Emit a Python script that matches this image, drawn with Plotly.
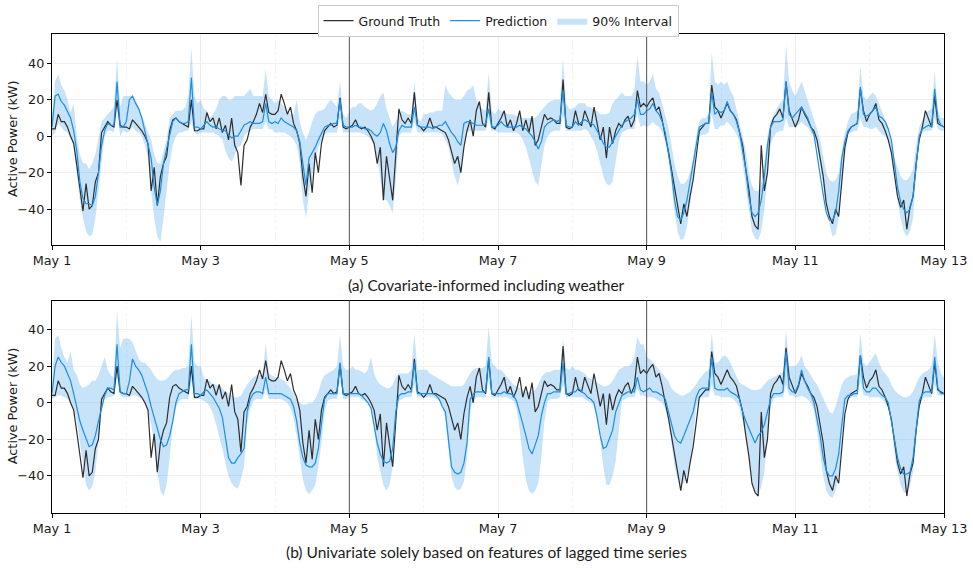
import pandas as pd
import plotly.graph_objects as go

# ---------------- data (hourly, May 1 00:00 -> May 13 00:00) ----------------
truth = [
    4, 4, 12, 8, 8, 5, 0, -4, -16, -30, -41, -26, -40, -38, -25, -20, 2, 5, 8, 6, 5, 20, 6, 5,
    5, 4, 9, 7, 5, 3, 0, -4, -30, -17, -38, -22, -15, -11, 3, 9, 10, 8, 7, 6, 5, 20, 3, 3,
    4, 4, 13, 8, 10, 4, 10, 2, 6, -2, 10, -5, -9, -27, -5, -2, 5, 8, 12, 18, 13, 23, 13, 12,
    12, 14, 23, 18, 12, 16, 7, 3, -4, -22, -33, -15, -31, -9, -20, -4, 3, 5, 7, 5, 6, 21, 5, 4,
    5, 6, 9, 5, 4, 5, 3, 0, -4, -15, -6, -35, -11, -22, -35, -10, 15, 9, 7, 10, 7, 24, 6, 5,
    3, 5, 10, 5, 5, 4, 3, 2, -2, -8, -15, -11, -20, -6, 3, 9, 0, 14, 19, 7, 5, 24, 5, 4,
    7, 10, 14, 5, 9, 3, 7, 14, 3, 9, 2, 11, -5, -2, 5, 12, 9, 10, 9, 7, 7, 31, 5, 4,
    5, 14, 7, 6, 14, 10, 5, 16, 7, -2, 5, -12, 5, -4, 3, 7, 5, 9, 11, 5, 9, 25, 16, 18,
    16, 19, 21, 14, 16, 9, 0, -8, -18, -28, -40, -48, -37, -44, -33, -24, -11, 3, 5, 7, 7, 28, 16, 14,
    10, 14, 18, 14, 12, 9, 2, -5, -18, -29, -44, -49, -51, -5, -30, -20, 5, 10, 12, 15, 10, 30, 14, 10,
    5, 9, 16, 12, 9, 5, 3, -2, -11, -22, -37, -44, -48, -40, -44, -24, -6, 2, 5, 6, 7, 26, 14, 8,
    12, 14, 18, 9, 7, 3, -2, -9, -20, -33, -39, -35, -51, -39, -33, -15, -2, 5, 14, 9, 5, 22, 7, 6, 5,
]

pred_a = [
    5, 22, 23, 19, 17, 13, 10, 3, -8, -25, -34, -37, -37, -38, -33, -20, -5, 3, 7, 6, 6, 30, 5, 5,
    8, 20, 22, 18, 15, 10, 3, -5, -12, -28, -38, -30, -15, -7, 0, 8, 10, 8, 7, 7, 8, 32, 5, 5,
    4, 6, 8, 6, 5, 5, 4, 3, 3, 1, -1, 0, 0, 3, 6, 7, 8, 7, 7, 7, 8, 18, 8, 7,
    8, 7, 10, 8, 7, 6, 5, 3, -3, -15, -27, -12, -9, -6, -2, 2, 5, 6, 6, 7, 7, 20, 6, 5,
    5, 5, 6, 5, 5, 4, 4, 3, 1, 0, 2, 7, 3, -4, -9, -6, 3, 6, 5, 5, 5, 16, 6, 5,
    5, 5, 5, 4, 5, 6, 6, 8, 5, 2, 0, -3, -5, 7, 8, 8, 7, 6, 6, 6, 7, 15, 5, 5,
    6, 8, 6, 5, 5, 5, 5, 6, 5, 4, 2, 0, -3, -7, -3, 5, 7, 8, 9, 8, 9, 25, 6, 5,
    5, 8, 6, 8, 9, 8, 7, 6, 3, 0, -4, -6, -6, -3, 0, 3, 6, 8, 9, 10, 12, 20, 12, 12,
    14, 15, 18, 14, 12, 8, 2, -8, -20, -35, -44, -46, -42, -35, -25, -15, -3, 5, 6, 7, 7, 24, 12, 14,
    13, 14, 19, 14, 12, 8, 2, -8, -18, -33, -42, -44, -42, -35, -22, -5, 5, 8, 8, 8, 9, 30, 12, 10,
    12, 14, 16, 13, 10, 5, 1, -10, -22, -32, -42, -46, -46, -42, -30, -12, -3, 3, 5, 6, 7, 27, 12, 11,
    12, 14, 16, 11, 10, 8, 4, -2, -15, -28, -36, -40, -42, -40, -33, -15, 0, 4, 5, 6, 5, 26, 10, 6, 5,
]

upper_a = [
    12, 30, 34, 28, 25, 20, 13, 18, 0, -10, -15, -15, -18, -15, -10, 0, 8, 10, 12, 14, 16, 42, 16, 22,
    22, 22, 22, 20, 16, 12, 7, 2, -2, -10, -15, -15, -8, -2, 10, 12, 14, 14, 14, 16, 22, 48, 22, 18,
    20, 15, 14, 10, 12, 15, 20, 22, 22, 20, 20, 22, 22, 22, 22, 24, 26, 22, 22, 22, 22, 37, 22, 20,
    18, 20, 18, 16, 14, 12, 12, 20, 8, 2, -2, 2, 8, 12, 14, 14, 15, 18, 20, 18, 16, 30, 12, 10,
    14, 16, 16, 18, 18, 16, 15, 14, 15, 18, 22, 24, 15, 10, 5, 8, 12, 14, 13, 12, 12, 30, 10, 8,
    12, 12, 13, 13, 14, 14, 14, 28, 24, 22, 20, 20, 20, 22, 25, 26, 28, 20, 17, 15, 14, 35, 14, 12,
    15, 14, 13, 12, 12, 12, 11, 11, 10, 10, 10, 10, 10, 12, 14, 16, 18, 19, 20, 20, 20, 42, 18, 15,
    15, 16, 18, 18, 18, 16, 16, 14, 14, 12, 12, 12, 13, 18, 20, 22, 24, 22, 22, 22, 25, 44, 30, 30,
    28, 30, 34, 26, 24, 18, 12, 5, -5, -15, -22, -26, -26, -24, -20, -12, 0, 8, 10, 10, 12, 46, 30, 28,
    30, 28, 30, 25, 22, 15, 8, 0, -8, -20, -27, -30, -30, -25, -15, 0, 8, 12, 15, 18, 20, 50, 30, 25,
    22, 26, 30, 25, 20, 15, 10, 4, -2, -12, -20, -24, -25, -24, -20, -8, 2, 8, 12, 13, 14, 38, 22, 20,
    22, 24, 22, 18, 14, 10, 5, -3, -12, -17, -22, -24, -24, -22, -18, -5, 5, 9, 12, 14, 15, 36, 14, 10, 10,
]

lower_a = [
    0, 2, 7, 5, 3, 2, -2, -5, -20, -35, -45, -52, -55, -54, -45, -30, -12, 0, 3, 3, 2, 15, 0, 3,
    2, 3, 5, 3, 2, 0, -5, -12, -30, -45, -55, -58, -45, -30, -15, -5, 0, 2, 2, 3, 3, 8, 2, 1,
    2, 2, 2, 2, 2, 1, 0, -2, -8, -12, -14, -10, -6, -5, 0, 2, 3, 4, 4, 4, 4, 8, 4, 4,
    2, 2, 2, 2, 1, 0, -2, -5, -15, -35, -45, -30, -22, -12, -6, -2, 1, 2, 2, 2, 2, 10, 2, 2,
    2, 2, 2, 2, 2, 1, 0, -2, -5, -12, -25, -35, -35, -38, -42, -25, 0, 2, 2, 2, 2, 8, 2, 2,
    2, 2, 2, 2, 2, 2, 1, -2, -6, -15, -22, -27, -20, -5, 2, 3, 3, 3, 3, 3, 3, 10, 3, 3,
    2, 2, 2, 2, 2, 2, 2, 1, -2, -6, -12, -18, -25, -27, -15, -5, 0, 2, 3, 3, 3, 12, 3, 3,
    3, 3, 3, 3, 4, 3, 0, -3, -8, -15, -22, -26, -27, -25, -15, -3, 2, 3, 4, 4, 4, 12, 5, 6,
    5, 6, 8, 6, 5, 2, -3, -12, -25, -42, -52, -57, -56, -50, -38, -25, -5, 0, 1, 1, 2, 12, 4, 4,
    6, 6, 8, 6, 4, 1, -3, -15, -28, -42, -52, -56, -57, -52, -40, -22, -5, 0, 2, 3, 3, 10, 5, 5,
    5, 6, 8, 6, 5, 2, 0, -5, -15, -28, -40, -48, -55, -54, -45, -25, -10, 1, 2, 3, 3, 10, 5, 5,
    4, 4, 5, 3, 1, 0, -3, -10, -20, -35, -45, -52, -55, -52, -45, -20, -2, 2, 3, 3, 3, 10, 4, 3, 3,
]

pred_b = [
    5, 20, 25, 22, 20, 16, 12, 5, -3, -10, -15, -20, -24, -23, -18, -10, -2, 4, 8, 8, 7, 32, 6, 5,
    5, 12, 24, 20, 18, 15, 10, 5, -2, -8, -15, -20, -24, -23, -18, -10, 0, 5, 6, 7, 7, 32, 5, 5,
    4, 6, 7, 5, 3, 0, -3, -8, -20, -30, -33, -33, -30, -28, -25, -5, 2, 5, 6, 6, 5, 14, 5, 5,
    5, 5, 5, 4, 3, 2, -2, -10, -22, -30, -34, -35, -35, -33, -25, -10, 2, 5, 5, 5, 5, 22, 5, 5,
    5, 5, 5, 5, 4, 2, 0, -3, -12, -22, -28, -32, -33, -32, -25, -5, 4, 5, 5, 6, 6, 22, 5, 5,
    5, 5, 5, 5, 4, 2, -2, -5, -20, -35, -38, -39, -38, -33, -22, 2, 5, 6, 6, 6, 6, 25, 5, 5,
    5, 5, 6, 5, 5, 4, 1, -5, -12, -18, -25, -28, -23, -18, -7, 0, 5, 5, 6, 6, 6, 22, 5, 5,
    6, 6, 8, 6, 5, 3, 2, 0, -8, -18, -25, -24, -20, -15, -5, 0, 4, 5, 6, 6, 6, 14, 7, 6,
    7, 8, 6, 6, 5, 4, 2, -5, -12, -18, -21, -22, -18, -14, -10, -5, 3, 7, 8, 8, 8, 25, 8, 7,
    7, 7, 8, 6, 5, 4, 2, -5, -10, -14, -18, -22, -18, -16, -12, -5, 2, 5, 5, 5, 6, 28, 8, 6,
    6, 10, 18, 12, 8, 5, 0, -8, -18, -30, -37, -40, -40, -36, -28, -12, 2, 4, 4, 5, 5, 26, 8, 6,
    6, 8, 8, 6, 4, 3, 0, -10, -20, -30, -36, -39, -39, -38, -30, -15, 1, 5, 6, 6, 6, 25, 8, 5, 5,
]

upper_b = [
    12, 35, 37, 30, 25, 22, 28, 18, 15, 10, 8, 9, 10, 12, 12, 15, 20, 25, 18, 15, 14, 50, 30, 35,
    35, 35, 33, 28, 24, 22, 22, 20, 18, 15, 13, 12, 12, 13, 15, 17, 18, 18, 19, 19, 20, 48, 22, 20,
    20, 14, 12, 12, 10, 10, 9, 8, 6, 5, 4, 3, 3, 4, 7, 10, 12, 14, 15, 15, 15, 33, 16, 15,
    14, 14, 13, 12, 10, 8, 5, 2, 0, -1, -1, 0, 0, 2, 6, 12, 15, 16, 17, 18, 20, 37, 20, 18,
    18, 20, 18, 18, 17, 16, 18, 25, 16, 12, 10, 9, 8, 8, 10, 14, 16, 16, 16, 16, 18, 38, 18, 18,
    18, 18, 16, 15, 14, 13, 12, 11, 10, 9, 9, 9, 9, 10, 13, 16, 18, 19, 19, 19, 20, 42, 22, 20,
    18, 18, 16, 14, 12, 10, 9, 8, 7, 6, 6, 6, 7, 10, 14, 16, 17, 17, 18, 18, 18, 35, 19, 18,
    20, 18, 18, 17, 16, 14, 13, 12, 11, 10, 9, 9, 10, 12, 15, 18, 19, 20, 20, 21, 25, 36, 32, 32,
    25, 24, 22, 20, 18, 16, 14, 12, 8, 6, 5, 4, 4, 5, 6, 8, 10, 13, 15, 17, 18, 38, 22, 22,
    24, 26, 25, 22, 18, 14, 11, 10, 9, 8, 7, 7, 7, 8, 10, 12, 13, 14, 15, 16, 17, 40, 20, 20,
    20, 22, 26, 20, 18, 15, 12, 10, 6, 2, -2, -5, -6, -2, 4, 10, 13, 14, 15, 15, 16, 38, 22, 20,
    22, 25, 27, 22, 18, 16, 14, 10, 7, 5, 4, 3, 3, 4, 6, 10, 14, 16, 17, 18, 20, 38, 22, 16, 14,
]

lower_b = [
    2, 3, 4, 4, 3, 2, 0, -3, -10, -22, -35, -45, -48, -46, -38, -20, -5, 2, 3, 3, 4, 14, 4, 3,
    3, 3, 4, 4, 3, 2, -1, -5, -12, -22, -38, -48, -51, -45, -30, -12, -3, 1, 2, 2, 2, 12, 2, 2,
    2, 1, 0, -2, -6, -12, -18, -25, -33, -40, -44, -46, -47, -42, -35, -12, -3, 1, 2, 2, 2, 8, 2, 2,
    2, 2, 2, 1, 0, -3, -8, -18, -30, -42, -48, -50, -48, -45, -35, -22, -5, 1, 2, 2, 2, 12, 2, 2,
    3, 3, 3, 3, 2, 1, 0, -3, -12, -30, -38, -45, -48, -45, -35, -10, 1, 2, 3, 3, 3, 10, 3, 3,
    3, 3, 3, 3, 2, 1, -2, -8, -25, -40, -46, -48, -47, -43, -30, -5, 2, 3, 3, 3, 3, 12, 3, 3,
    3, 3, 3, 3, 2, 1, -3, -15, -30, -42, -48, -50, -48, -44, -30, -10, 1, 2, 2, 2, 3, 10, 3, 3,
    3, 3, 3, 3, 2, 1, 0, -2, -8, -20, -35, -45, -45, -40, -32, -15, 1, 2, 3, 3, 3, 8, 4, 4,
    3, 3, 3, 2, 1, 0, -3, -10, -22, -35, -42, -45, -44, -40, -35, -20, -2, 2, 3, 3, 3, 10, 4, 4,
    3, 3, 3, 3, 2, 0, -3, -10, -18, -32, -42, -48, -50, -46, -38, -20, -2, 2, 3, 3, 3, 10, 4, 4,
    3, 3, 4, 3, 2, 0, -4, -15, -28, -40, -48, -51, -52, -48, -40, -22, -2, 2, 3, 3, 3, 12, 4, 4,
    3, 3, 3, 3, 2, 0, -3, -10, -28, -38, -45, -49, -49, -46, -38, -20, -2, 2, 3, 3, 3, 10, 4, 4, 4,
]

tick_dates = ["2023-05-01", "2023-05-03", "2023-05-05", "2023-05-07",
              "2023-05-09", "2023-05-11", "2023-05-13"]
tick_labels = ["May 1", "May 3", "May 5", "May 7", "May 9", "May 11", "May 13"]
marker_dates = ["2023-05-05", "2023-05-09"]
y_title = "Active Power (kW)"
captions = ["(a) Covariate-informed including weather",
            "(b) Univariate solely based on features of lagged time series"]

t = pd.date_range("2023-05-01", periods=len(truth), freq="h")

TRUTH_C = "#2e2e2e"
PRED_C = "#1b8ee5"
BAND_C = "rgba(30,144,230,0.25)"

fig = go.Figure()

panels = [
    ("x", "y", pred_a, upper_a, lower_a, True),
    ("x2", "y2", pred_b, upper_b, lower_b, False),
]
for xa, ya, pred, up, lo, show in panels:
    fig.add_trace(go.Scatter(x=t, y=lo, mode="lines", line=dict(width=0, color=BAND_C),
                             showlegend=False, hoverinfo="skip", xaxis=xa, yaxis=ya))
    fig.add_trace(go.Scatter(x=t, y=up, mode="lines", line=dict(width=0, color=BAND_C),
                             fill="tonexty", fillcolor=BAND_C, name="90% Interval",
                             legendrank=3, showlegend=show, xaxis=xa, yaxis=ya))
    fig.add_trace(go.Scatter(x=t, y=truth, mode="lines", line=dict(width=1.2, color=TRUTH_C),
                             name="Ground Truth", legendrank=1, showlegend=show,
                             xaxis=xa, yaxis=ya))
    fig.add_trace(go.Scatter(x=t, y=pred, mode="lines", line=dict(width=1.2, color=PRED_C),
                             name="Prediction", legendrank=2, showlegend=show,
                             xaxis=xa, yaxis=ya))

x_dom = [52 / 973, 944 / 973]
common_x = dict(
    domain=x_dom, range=["2023-05-01", "2023-05-13"], type="date", automargin=False,
    tickmode="array", tickvals=tick_dates, ticktext=tick_labels,
    showline=True, mirror=True, linecolor="black", linewidth=1.2,
    ticks="outside", ticklen=4, tickcolor="black",
    tickfont=dict(size=12.8, color="#1a1a1a"),
    showgrid=True, gridcolor="#ececec", gridwidth=1,
    minor=dict(dtick=86400000, tick0="2023-05-01", showgrid=True,
               gridcolor="#f2f2f2", griddash="dot", ticks=""),
    zeroline=False,
)
common_y = dict(
    tickvals=[-40, -20, 0, 20, 40], automargin=False,
    showline=True, mirror=True, linecolor="black", linewidth=1.2,
    ticks="outside", ticklen=4, tickcolor="black",
    tickfont=dict(size=12.8, color="#1a1a1a"),
    showgrid=True, gridcolor="#f0f0f0", gridwidth=1, zeroline=False,
)

fig.update_layout(
    width=973, height=568,
    margin=dict(l=0, r=0, t=0, b=0, autoexpand=False),
    paper_bgcolor="white", plot_bgcolor="white",
    font=dict(family="DejaVu Sans", color="#1a1a1a"),
    xaxis=dict(common_x, anchor="y"),
    yaxis=dict(common_y, domain=[1 - 245 / 568, 1 - 34 / 568], range=[-59.6, 56], anchor="x"),
    xaxis2=dict(common_x, anchor="y2"),
    yaxis2=dict(common_y, domain=[1 - 512.7 / 568, 1 - 300.7 / 568], range=[-60.1, 55.8], anchor="x2"),
    legend=dict(orientation="h", x=(52 + 944) / 2 / 973, xanchor="center",
                y=1 - 5 / 568, yanchor="top", bordercolor="#cccccc", borderwidth=1,
                bgcolor="white", font=dict(size=12.5, color="#1a1a1a"),
                traceorder="normal"),
    showlegend=True,
)

shapes = []
for xr, yr in [("x", "y domain"), ("x2", "y2 domain")]:
    for d in marker_dates:
        shapes.append(dict(type="line", xref=xr, yref=yr, x0=d, x1=d, y0=0, y1=1,
                           line=dict(color="#555555", width=1)))
fig.update_layout(shapes=shapes)

# y-axis titles
for ycen in [1 - 139.5 / 568, 1 - 406.7 / 568]:
    fig.add_annotation(text=y_title, xref="paper", yref="paper", x=12.5 / 973, y=ycen,
                       xanchor="center", yanchor="middle", textangle=-90, showarrow=False,
                       font=dict(size=12.8, color="#1a1a1a"))

fig.add_annotation(text=captions[0], xref="paper", yref="paper", x=0.5, y=1 - 285 / 568,
                   xanchor="center", yanchor="middle", showarrow=False,
                   font=dict(family="Lato", size=15.5, color="#1a1a1a"))
fig.add_annotation(text=captions[1], xref="paper", yref="paper", x=0.5, y=1 - 552 / 568,
                   xanchor="center", yanchor="middle", showarrow=False,
                   font=dict(family="Lato", size=15.5, color="#1a1a1a"))

fig.write_html("out.html")
